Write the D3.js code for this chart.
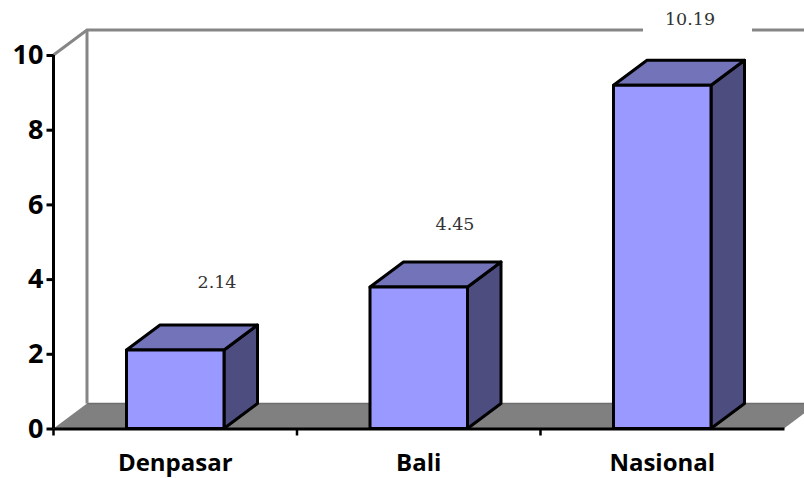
<!DOCTYPE html>
<html><head><meta charset="utf-8">
<script src="https://cdn.jsdelivr.net/npm/d3@7"></script>
<style>html,body{margin:0;padding:0;background:#fff;overflow:hidden}svg{display:block}</style>
</head><body><svg id="c" width="804" height="478"></svg>
<script>
const categories = ["Denpasar", "Bali", "Nasional"];
const barHeights = [2.1, 3.79, 9.19];
const valueLabels = ["2.14", "4.45", "10.19"];
const yTicks = [0, 2, 4, 6, 8, 10];

const svg = d3.select("#c");
const depthX = 33.5, depthY = -25;
const x = d3.scaleBand().domain(categories).range([53.5, 784]).paddingInner(0).paddingOuter(0);
const y = d3.scaleLinear().domain([0, 10]).range([428.5, 55]);
const barW = 97.5;
const line = d3.line();
const x0 = x.range()[0], x1 = x.range()[1], y0 = y(0), yT = y(10);

// floor and walls
svg.append("path").attr("d", line([[x0,y0],[x0+depthX,y0+depthY],[x1+depthX,y0+depthY],[x1,y0]])+"Z")
  .attr("fill","#808080").attr("stroke","none");
svg.append("path").attr("d", line([[x0+depthX,y0+depthY],[x1+depthX,y0+depthY]])).attr("stroke","#6e6e6e").attr("stroke-width",1.5).attr("fill","none");
svg.append("path").attr("d", line([[x0,yT],[x0+depthX,yT+depthY],[x1+depthX,yT+depthY]])).attr("fill","none").attr("stroke","#868686").attr("stroke-width",3);
svg.append("path").attr("d", line([[x0+depthX,yT+depthY],[x0+depthX,y0+depthY]])).attr("fill","none").attr("stroke","#868686").attr("stroke-width",3);

// bars
const g = svg.selectAll("g.bar").data(categories).join("g").attr("class","bar");
const sw = 3;
g.each(function(c,i){
  const s = d3.select(this), l = x(c)+x.bandwidth()/2-barW/2, r = l+barW, t = y(barHeights[i]);
  s.append("path").attr("d", line([[r,t],[r+depthX,t+depthY],[r+depthX,y0+depthY],[r,y0]])+"Z").attr("fill","#4d4d80");
  s.append("path").attr("d", line([[l,t],[l+depthX,t+depthY],[r+depthX,t+depthY],[r,t]])+"Z").attr("fill","#7373b9");
  s.append("rect").attr("x",l).attr("y",t).attr("width",barW).attr("height",y0-t).attr("fill","#9999ff");
  s.selectAll("path,rect").attr("stroke","#000").attr("stroke-width",sw).attr("stroke-linejoin","round");
});

// axes
const axisY = d3.axisLeft(y).tickValues(yTicks).tickSize(7).tickPadding(3).tickFormat(d3.format("d"));
const gy = svg.append("g").attr("transform",`translate(${x0},0)`).call(axisY);
const axisX = d3.axisBottom(x).tickValues([]).tickSizeOuter(0);
const gx = svg.append("g").attr("transform",`translate(0,${y0})`).call(axisX);
gx.selectAll(".domain").attr("stroke","#000").attr("stroke-width",3);
gy.selectAll(".domain").attr("d",`M0,${yT}V${y0}`).attr("stroke","#000").attr("stroke-width",3);
gy.selectAll("line").attr("stroke","#000").attr("stroke-width",3);
gy.selectAll("text").attr("font-family","'Open Sans',sans-serif").attr("font-weight",700).attr("font-size",27).attr("fill","#000");

const xt = x.domain().map(c=>x(c));
svg.selectAll("line.xt").data(xt).join("line").attr("class","xt")
  .attr("x1",d=>d).attr("x2",d=>d).attr("y1",y0).attr("y2",y0+7).attr("stroke","#000").attr("stroke-width",2.5);

svg.selectAll("text.cat").data(categories).join("text").attr("class","cat")
  .attr("x",(c,i)=>x(c)+x.bandwidth()/2).attr("y",471).attr("text-anchor","middle")
  .attr("font-family","'Open Sans',sans-serif").attr("font-weight",700).attr("font-size",24).attr("fill","#000").text(c=>c);

// value labels
const labelY = [282, 224, 18.5];
const labelX = [217, 455, 690];
svg.append("rect").attr("x",643).attr("y",0).attr("width",109).attr("height",36).attr("fill","#fff");
svg.selectAll("text.val").data(valueLabels).join("text").attr("class","val")
  .attr("x",(d,i)=>labelX[i]).attr("y",(d,i)=>labelY[i]+6).attr("text-anchor","middle")
  .attr("font-family","'DejaVu Serif',serif").attr("font-size",17.5).attr("fill","#333").text(d=>d);
</script></body></html>
